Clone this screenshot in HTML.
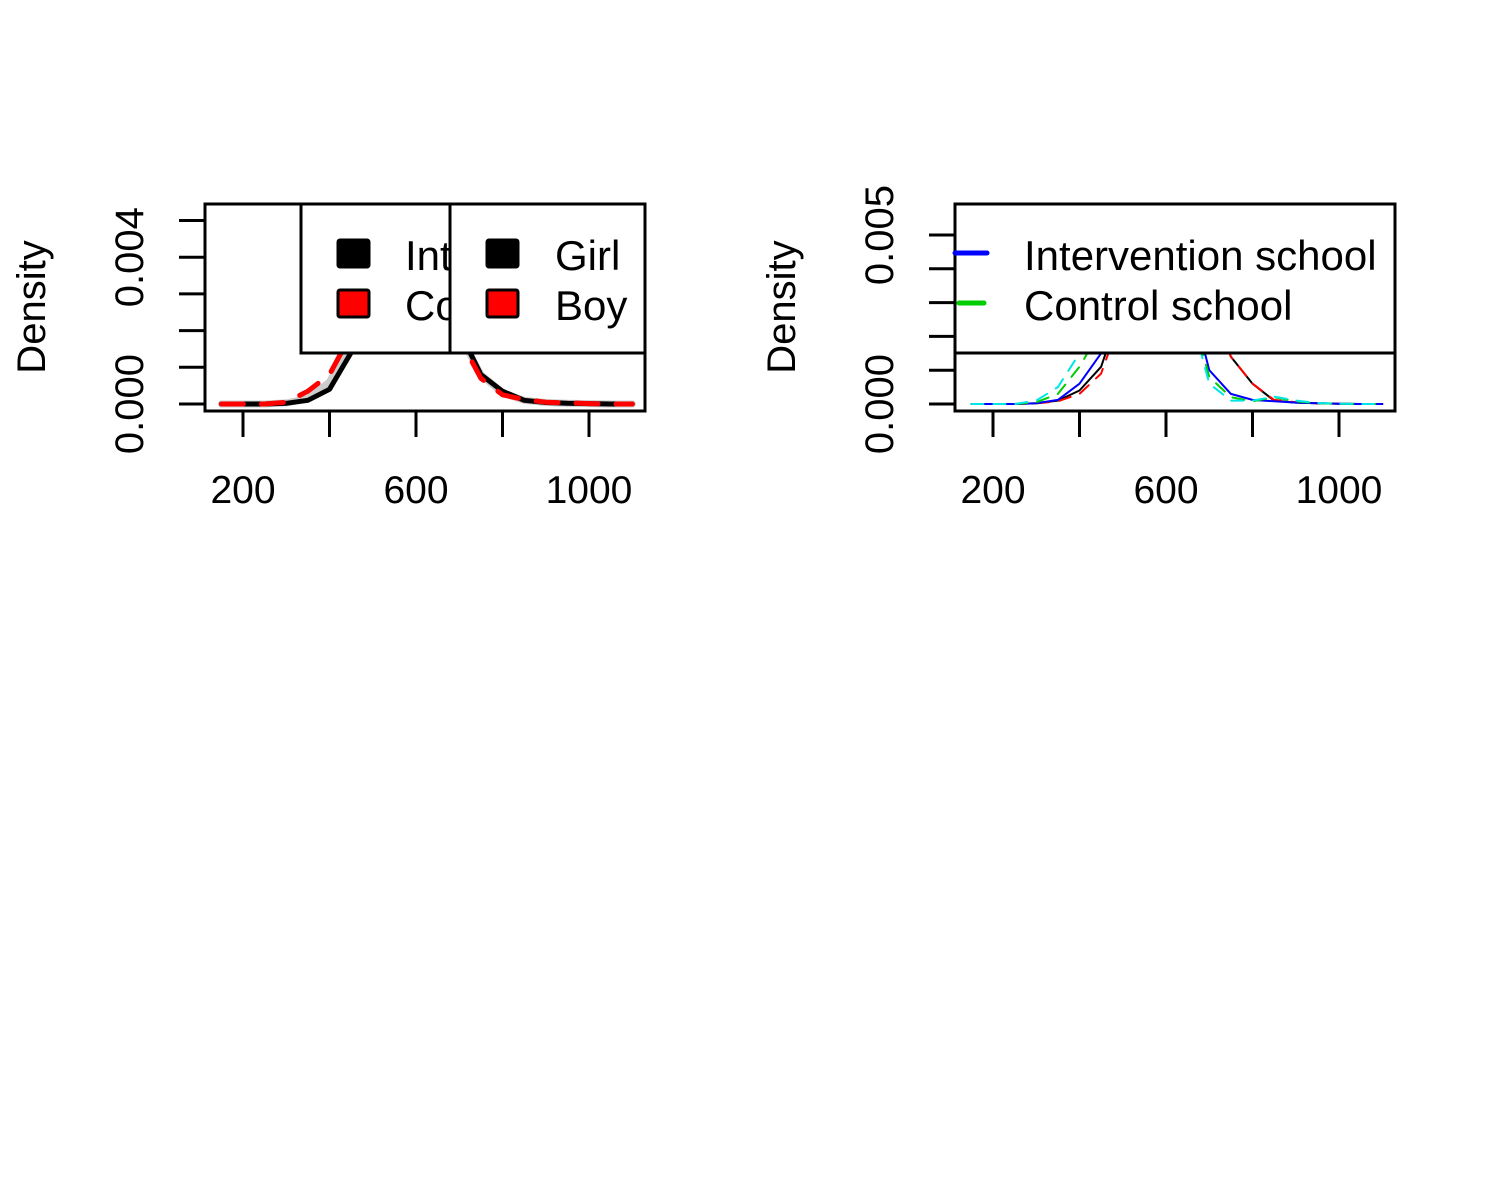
<!DOCTYPE html>
<html><head><meta charset="utf-8"><style>
html,body{margin:0;padding:0;background:#fff;}
svg{display:block;font-family:"Liberation Sans",sans-serif;}
</style></head><body>
<svg id="chart" width="1500" height="1200" viewBox="0 0 1500 1200" xmlns="http://www.w3.org/2000/svg">
<rect width="1500" height="1200" fill="#fff"/>
<defs>
<clipPath id="clipL"><rect x="205" y="204" width="440" height="207"/></clipPath>
<clipPath id="clipR"><rect x="955" y="204" width="440" height="207"/></clipPath>
<clipPath id="clipLegL"><rect x="200" y="200" width="446" height="214"/></clipPath>
<clipPath id="clipLegR"><rect x="950" y="200" width="446" height="214"/></clipPath>
<clipPath id="clipTxtL"><rect x="200" y="200" width="444" height="214"/></clipPath>
</defs>
<g id="left"></g>
<g id="right"></g>
</svg>
<script>
const xGrid = [150,200,250,300,350,400,450,500,550,600,650,700,750,800,850,900,950,1000,1050,1100];
// left panel
const leftBlack = [0,0,0,0.00002,0.0001,0.0004,0.0014,0.0035,0.0055,0.006,0.0045,0.002,0.0008,0.00035,0.0001,0.00004,0.00002,0.00001,0,0];
const leftGrey  = [0,0,0,0.00003,0.00015,0.0006,0.0017,0.0037,0.0056,0.006,0.0044,0.0019,0.0008,0.0003,0.0001,0.00004,0.00002,0.00001,0,0];
const leftRed   = [0,0,0,0.00005,0.00035,0.0008,0.0019,0.0039,0.0057,0.006,0.0043,0.0018,0.0007,0.00025,0.00012,0.00005,0.00003,0.00001,0,0];
// right panel
const rBlack = [0,0,0,0.00002,0.0001,0.0004,0.0011,0.003,0.005,0.006,0.005,0.003,0.0014,0.0006,0.0001,0.00004,0.00002,0.00001,0,0];
const rRed   = [0,0,0,0.00002,0.00008,0.0003,0.0009,0.0027,0.0048,0.006,0.0051,0.0031,0.0014,0.0006,0.00012,0.00005,0.00002,0.00001,0,0];
const rBlue  = [0,0,0,0.00002,0.00012,0.0006,0.0015,0.0035,0.0055,0.006,0.0035,0.001,0.0003,0.00012,0.00008,0.00004,0.00002,0.00001,0,0];
const rGreen = [0,0,0,0.00005,0.0003,0.0011,0.0022,0.004,0.0057,0.006,0.0032,0.0008,0.0002,0.00008,0.0002,0.00008,0.00002,0.00001,0,0];
const rCyan  = [0,0,0,0.0001,0.0005,0.0015,0.0028,0.0045,0.0058,0.006,0.003,0.0006,0.0001,0.0001,0.00022,0.0001,0.00003,0.00001,0,0];
const xTicks = [200,400,600,800,1000];
const xTickLabels = ["200","600","1000"];
const leftYTicks = [0,0.001,0.002,0.003,0.004,0.005];
const rightYTicks = [0,0.001,0.002,0.003,0.004,0.005];

const NS = "http://www.w3.org/2000/svg";
function mk(tag, attrs, parent){const e=document.createElementNS(NS,tag);for(const k in attrs)e.setAttribute(k,attrs[k]);parent.appendChild(e);return e;}

function panel(g, x0, clipId, yPerUnit, yTicks, yLabels, series, legendFn){
  const sx = v => x0 + 38 + (v-200)*0.4325;
  const sy = d => 404 - d*yPerUnit;
  const cg = mk('g',{'clip-path':'url(#'+clipId+')'},g);
  series.forEach(s=>{
    const p = mk('path',{d:s.vals.map((d,i)=>(i?'L':'M')+sx(xGrid[i]).toFixed(1)+','+sy(d).toFixed(1)).join(''),fill:'none',stroke:s.color,'stroke-width':s.w,'stroke-dasharray':s.dash||'none','stroke-linecap':'round','stroke-linejoin':'round'},cg);
    
    
  });
  const box = mk('rect',{x:x0,y:204,width:440,height:207,fill:'none',stroke:'#000','stroke-width':3},g);
  
  
  xTicks.forEach(v=>{mk('line',{x1:sx(v),x2:sx(v),y1:411,y2:437,stroke:'#000','stroke-width':3},g);});
  [200,600,1000].forEach((v,i)=>{
    const t=mk('text',{x:sx(v),y:503,'font-size':39,'text-anchor':'middle'},g);t.textContent=xTickLabels[i];
    
    
  });
  yTicks.forEach(d=>{mk('line',{x1:x0-26,x2:x0,y1:sy(d),y2:sy(d),stroke:'#000','stroke-width':3},g);});
  yLabels.forEach(l=>{
    const y=sy(l.v);
    const t=mk('text',{x:x0-62,y:y,'font-size':40,'text-anchor':'middle',transform:'rotate(-90 '+(x0-62)+' '+y+')'},g);
    t.textContent=l.t;
    
    
  });
  const yl=mk('text',{x:x0-160,y:307,'font-size':40,'text-anchor':'middle',transform:'rotate(-90 '+(x0-160)+' 307)'},g);
  yl.textContent='Density';
  
  
  legendFn(g);
}

const L=document.getElementById('left');
panel(L,205,'clipL',36700,leftYTicks,[{v:0,t:'0.000'},{v:0.004,t:'0.004'}],[
  {vals:leftGrey,color:'#cccccc',w:7,name:'grey-curve'},
  {vals:leftBlack,color:'#000',w:5,name:'black-curve'},
  {vals:leftRed,color:'#ff0000',w:5,dash:'22 18',name:'red-dashed-curve'}
], g=>{
  const lg=mk('g',{'clip-path':'url(#clipLegL)'},g);
  const l1=mk('g',{},lg);
  
  
  mk('rect',{x:301,y:204,width:149,height:149,fill:'#fff',stroke:'#000','stroke-width':3},l1);
  mk('rect',{x:338,y:240,width:31,height:27,rx:2,fill:'#000',stroke:'#000','stroke-width':3},l1);
  mk('rect',{x:338,y:290,width:31,height:27,rx:2,fill:'#ff0000',stroke:'#000','stroke-width':3},l1);
  const tg1=mk('g',{'clip-path':'url(#clipTxtL)'},l1);
  let t=mk('text',{x:405,y:270,'font-size':42},tg1);t.textContent='Intervention school';
  t=mk('text',{x:405,y:320,'font-size':42},tg1);t.textContent='Control school';
  const l2=mk('g',{},lg);
  
  
  mk('rect',{x:450,y:204,width:195,height:149,fill:'#fff',stroke:'#000','stroke-width':3},l2);
  mk('rect',{x:487,y:240,width:31,height:27,rx:2,fill:'#000',stroke:'#000','stroke-width':3},l2);
  mk('rect',{x:487,y:290,width:31,height:27,rx:2,fill:'#ff0000',stroke:'#000','stroke-width':3},l2);
  t=mk('text',{x:555,y:270,'font-size':42},l2);t.textContent='Girl';
  t=mk('text',{x:555,y:320,'font-size':42},l2);t.textContent='Boy';
});

const R=document.getElementById('right');
panel(R,955,'clipR',33800,rightYTicks,[{v:0,t:'0.000'},{v:0.005,t:'0.005'}],[
  {vals:rBlack,color:'#000',w:2,name:'black-curve'},
  {vals:rRed,color:'#ff0000',w:2,dash:'12 10',name:'red-dashed-curve'},
  {vals:rBlue,color:'#0000ff',w:2,name:'blue-curve'},
  {vals:rGreen,color:'#00cd00',w:2,dash:'12 10',name:'green-dashed-curve'},
  {vals:rCyan,color:'#00e5e5',w:2,dash:'12 10',name:'cyan-dashed-curve'}
], g=>{
  const lg=mk('g',{'clip-path':'url(#clipLegR)'},g);
  const l=mk('g',{},lg);
  
  
  mk('rect',{x:955,y:204,width:440,height:149,fill:'#fff',stroke:'#000','stroke-width':3},l);
  mk('line',{x1:955,x2:987,y1:253,y2:253,stroke:'#0000ff','stroke-width':5,'stroke-linecap':'round'},l);
  mk('line',{x1:959,x2:984,y1:303,y2:303,stroke:'#00cd00','stroke-width':5,'stroke-linecap':'round'},l);
  let t=mk('text',{x:1024,y:270,'font-size':42},l);t.textContent='Intervention school';
  t=mk('text',{x:1024,y:320,'font-size':42},l);t.textContent='Control school';
});
</script>
</body></html>
